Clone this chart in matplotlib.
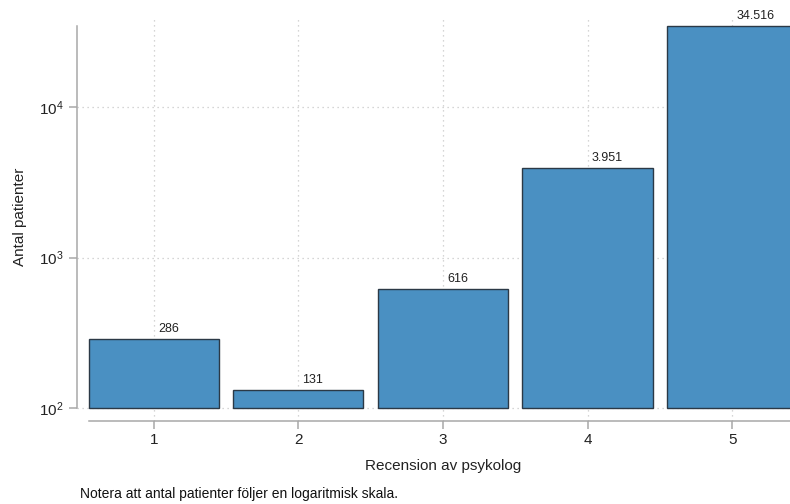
import numpy as np
import matplotlib
matplotlib.use("Agg")
import matplotlib.pyplot as plt
from matplotlib.ticker import NullLocator, FixedLocator

plt.rcParams['font.family'] = ['Liberation Sans', 'DejaVu Sans']
plt.rcParams['mathtext.fontset'] = 'custom'
plt.rcParams['mathtext.rm'] = 'Liberation Sans'

ratings = [1, 2, 3, 4, 5]
patients = [286, 131, 616, 3951, 34516]
y_ticks = [100, 1000, 10000]

bar_color = "#4a90c2"
edge_color = "#2b3946"
axis_grey = "#a8a8a8"

fig = plt.figure(figsize=(7.9, 5.04), dpi=100)
# axes spans from the left spine to the right figure edge
ax = fig.add_axes([77 / 790, 1 - 421 / 504, (790 - 77) / 790, (421 - 17) / 504])

ax.set_yscale("log")
decade_px = 150.5
ax.set_ylim(10 ** (2 - 13 / decade_px), 10 ** (2 + 391 / decade_px))
ax.set_xlim(0.469, 5.40)

heights = [p - 100 for p in patients]
ax.bar(ratings, heights, bottom=100, width=0.9, color=bar_color,
       edgecolor=edge_color, linewidth=1.0, zorder=3)

for r, p in zip(ratings, patients):
    label = f"{p:,}".replace(",", ".")
    ax.annotate(label, (r, p), xytext=(3, 3), textcoords="offset points",
                ha="left", va="bottom", fontsize=9, color="#222222", zorder=4)

ax.grid(True, which="major", linestyle=(0, (1, 3)), color="#c8c8c8", linewidth=0.9, zorder=0)
ax.yaxis.set_major_locator(FixedLocator(y_ticks))
ax.yaxis.set_minor_locator(NullLocator())
ax.set_xticks(ratings)

for side in ["top", "right"]:
    ax.spines[side].set_visible(False)
ax.spines["left"].set_bounds(100, patients[-1])
ax.spines["bottom"].set_bounds(0.55, 5.40)
for side in ["left", "bottom"]:
    ax.spines[side].set_color(axis_grey)
    ax.spines[side].set_linewidth(1.1)

ax.tick_params(axis="both", colors=axis_grey, labelcolor="#222222", labelsize=11,
               length=5.5, width=1.1)
ax.tick_params(axis="x", pad=3.5)
ax.tick_params(axis="y", pad=4)

fig.text(443 / 790, 1 - 466 / 504, "Recension av psykolog", ha="center", va="center",
         fontsize=11, color="#222222")
fig.text(20 / 790, 1 - 217 / 504, "Antal patienter", ha="center", va="center",
         rotation=90, fontsize=11, color="#222222")
fig.text(80 / 790, 1 - 494 / 504, "Notera att antal patienter följer en logaritmisk skala.",
         ha="left", va="center", fontsize=10, color="#111111")

fig.savefig("out.png", dpi=100)
